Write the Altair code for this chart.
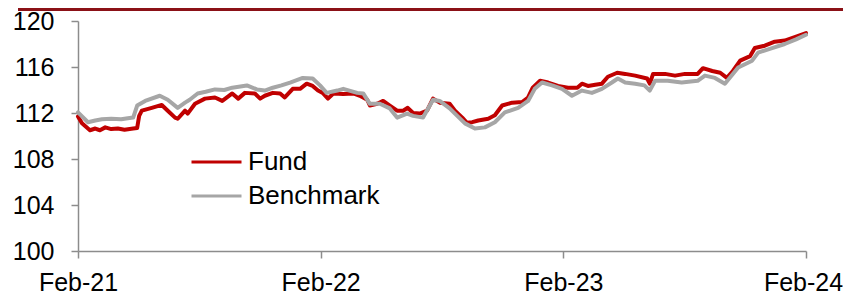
import altair as alt
import pandas as pd

# ---- data (days since 1 Feb 2021, index level) ----
fund_days = [0, 6, 18, 26, 33, 41, 50, 60, 70, 83,
             89, 92, 96, 111, 126, 135, 146, 150, 161, 165,
             176, 191, 206, 217, 232, 241, 251, 266, 274, 281,
             293, 304, 311, 323, 334, 344, 353, 361, 368, 376,
             384, 399, 414, 424, 435, 439, 450, 459, 469, 480,
             489, 496, 504, 514, 525, 534, 544, 559, 567, 578,
             585, 593, 602, 617, 627, 638, 653, 668, 677, 684,
             695, 707, 722, 737, 751, 758, 767, 778, 788, 797,
             811, 823, 838, 856, 860, 865, 883, 898, 913, 932,
             940, 954, 966, 976, 985, 996, 1011, 1018, 1033, 1048,
             1063, 1078, 1095]
fund_values = [111.7, 111.1, 110.5, 110.65, 110.5, 110.75, 110.6, 110.65, 110.55, 110.65,
               110.7, 111.75, 112.2, 112.45, 112.7, 112.2, 111.6, 111.5, 112.2, 111.95,
               112.8, 113.25, 113.35, 113.05, 113.7, 113.25, 113.75, 113.7, 113.25, 113.5,
               113.75, 113.7, 113.35, 114.1, 114.1, 114.55, 114.35, 113.95, 113.75, 113.25,
               113.7, 113.65, 113.7, 113.5, 113.15, 112.65, 112.8, 113.05, 112.65, 112.2,
               112.2, 112.45, 112.0, 111.95, 112.2, 113.25, 112.9, 112.8, 112.2, 111.6,
               111.15, 111.2, 111.35, 111.5, 111.8, 112.65, 112.9, 112.95, 113.35, 114.2,
               114.8, 114.65, 114.35, 114.2, 114.2, 114.55, 114.35, 114.45, 114.55, 115.15,
               115.5, 115.4, 115.25, 115.0, 114.55, 115.4, 115.4, 115.25, 115.4, 115.4,
               115.9, 115.65, 115.5, 115.05, 115.65, 116.55, 116.95, 117.65, 117.85, 118.2,
               118.3, 118.6, 118.95]

bench_days = [0, 15, 26, 36, 50, 65, 75, 83, 89, 101,
              123, 135, 150, 161, 168, 180, 192, 206, 220, 232,
              254, 269, 281, 293, 306, 319, 338, 353, 364, 374,
              390, 399, 420, 429, 439, 454, 469, 480, 495, 504,
              519, 534, 544, 559, 567, 582, 597, 612, 627, 642,
              662, 677, 687, 698, 713, 728, 743, 758, 773, 788,
              803, 812, 823, 838, 852, 860, 868, 887, 908, 932,
              943, 958, 973, 993, 1014, 1023, 1044, 1063, 1080, 1095]
bench_values = [112.05, 111.2, 111.35, 111.45, 111.5, 111.45, 111.55, 111.6, 112.65, 113.05,
                113.5, 113.15, 112.45, 112.9, 113.15, 113.7, 113.85, 114.05, 114.0, 114.2,
                114.4, 114.05, 113.95, 114.2, 114.4, 114.65, 115.05, 115.0, 114.4, 113.75,
                113.95, 114.1, 113.75, 113.7, 112.8, 112.8, 112.4, 111.6, 111.95, 111.75,
                111.6, 113.15, 113.05, 112.4, 111.95, 111.1, 110.65, 110.75, 111.2, 112.05,
                112.45, 113.05, 114.1, 114.65, 114.4, 114.1, 113.5, 113.95, 113.75, 114.1,
                114.65, 115.0, 114.65, 114.55, 114.4, 113.95, 114.8, 114.8, 114.65, 114.8,
                115.25, 115.05, 114.55, 115.95, 116.55, 117.25, 117.65, 118.0, 118.4, 118.8]

series_names = ["Fund", "Benchmark"]
series_colors = ["#C00000", "#A6A6A6"]
y_ticks = [100, 104, 108, 112, 116, 120]
x_tick_years = [2021, 2022, 2023, 2024]

start = pd.Timestamp("2021-02-01")
fund_df = pd.DataFrame({"date": start + pd.to_timedelta(fund_days, unit="D"),
                        "value": fund_values, "series": "Fund"})
bench_df = pd.DataFrame({"date": start + pd.to_timedelta(bench_days, unit="D"),
                         "value": bench_values, "series": "Benchmark"})
df = pd.concat([fund_df, bench_df], ignore_index=True)

FONT = "Liberation Sans"

lines = alt.Chart(df).mark_line(strokeWidth=4, strokeJoin="round", strokeCap="round").encode(
    x=alt.X("date:T",
            scale=alt.Scale(domain=[alt.DateTime(year=2021, month=2, date=1),
                                    alt.DateTime(year=2024, month=2, date=1)]),
            axis=alt.Axis(values=[alt.DateTime(year=y, month=2, date=1) for y in x_tick_years],
                          format="%b-%y", title=None, labelFlush=False,
                          tickSize=7, labelPadding=12,
                          labelOffset={"condition": {"test": "datum.index == 1", "value": -3},
                                       "value": 0})),
    y=alt.Y("value:Q",
            scale=alt.Scale(domain=[100, 120], nice=False, zero=False),
            axis=alt.Axis(values=y_ticks, title=None, tickSize=7, labelPadding=17)),
    color=alt.Color("series:N",
                    scale=alt.Scale(domain=series_names, range=series_colors),
                    legend=alt.Legend(title=None, orient="none", legendX=112, legendY=129,
                                      symbolType="stroke", symbolSize=2500,
                                      symbolStrokeWidth=3, labelFontSize=26,
                                      labelFont=FONT, labelColor="#000000",
                                      labelOffset=5, rowPadding=8, clipHeight=24,
                                      padding=0)),
    detail="series:N",
)

top_bar = alt.Chart().mark_rule(color="#8B1117", strokeWidth=3).encode(
    x=alt.value(-60), x2=alt.value(773), y=alt.value(-11.5)
)

chart = alt.layer(top_bar, lines).properties(
    width=728, height=230,
    autosize=alt.AutoSizeParams(type="none"),
    padding={"left": 70, "top": 13, "right": 37, "bottom": 43},
).configure_view(stroke=None).configure_axis(
    grid=False,
    domainColor="#8C8C8C", domainWidth=1.5,
    tickColor="#8C8C8C", tickWidth=1.5,
    labelFont=FONT, labelFontSize=25, labelColor="#000000",
)

chart.save("out.html", embed_options={"renderer": "svg", "actions": False})
